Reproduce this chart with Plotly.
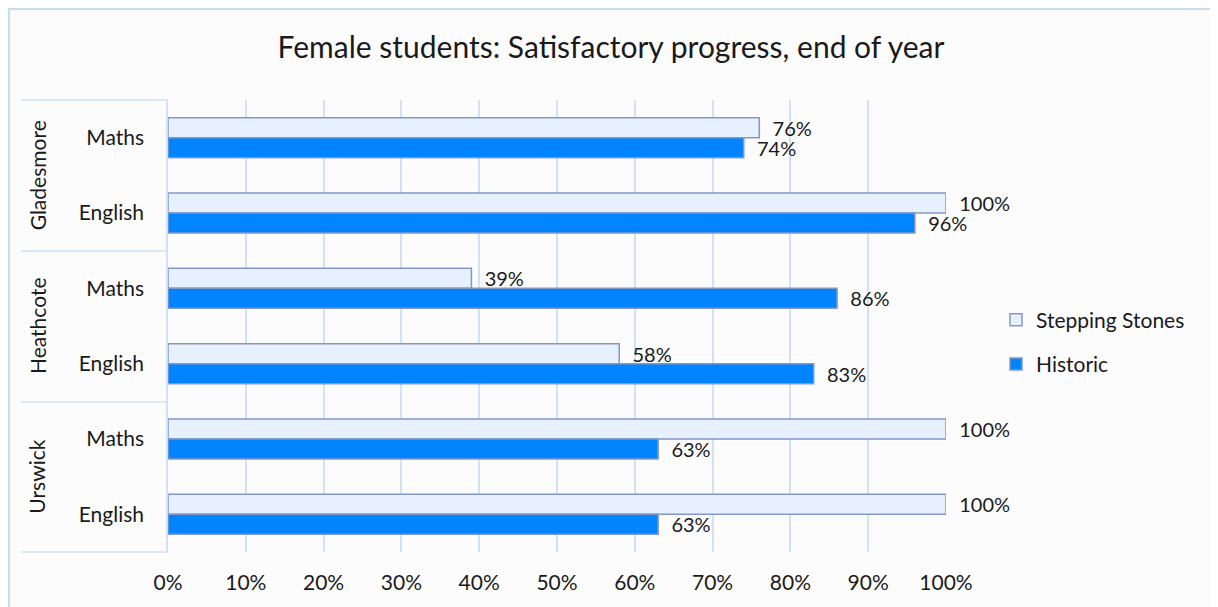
import plotly.graph_objects as go

# rows listed top to bottom, as shown in the chart
schools = ["Gladesmore", "Gladesmore", "Heathcote", "Heathcote", "Urswick", "Urswick"]
subjects = ["Maths", "English", "Maths", "English", "Maths", "English"]
stepping_stones = [0.76, 1.00, 0.39, 0.58, 1.00, 1.00]
historic = [0.74, 0.96, 0.86, 0.83, 0.63, 0.63]
x_ticks = [0, 0.1, 0.2, 0.3, 0.4, 0.5, 0.6, 0.7, 0.8, 0.9, 1.0]

# the page puts the figure 8px in from the top-left corner
OFF = 8
W, H = 1218 - OFF, 607 - OFF
PL, PR, PT, PB = 168, 946, 100, 552          # plot area in page pixels
L, R, T, B = PL - OFF, 1218 - PR, PT - OFF, 607 - PB
pw, ph = PR - PL, PB - PT

FONT = "Lato"
TXT = "#1a1a1a"
GRID = "#cfe2f7"
EDGE = "#8497c9"


def px_x(p):
    return (p - PL) / pw


def px_y(p):
    return (PB - p) / ph


rows = [s + " " + j for s, j in zip(schools, subjects)]

fig = go.Figure()
fig.add_trace(go.Bar(
    y=rows, x=stepping_stones, orientation="h", name="Stepping Stones",
    legendgroup="a",
    marker=dict(color="#e6f1fd", line=dict(color=EDGE, width=1.5)),
    text=stepping_stones, texttemplate="  %{x:.0%}", textposition="outside",
    textfont=dict(family=FONT, size=20, color=TXT), cliponaxis=False,
    constraintext="none",
))
fig.add_trace(go.Bar(
    y=rows, x=historic, orientation="h", name="Historic",
    legendgroup="b",
    marker=dict(color="#0084ff", line=dict(color=EDGE, width=1.5)),
    text=historic, texttemplate="  %{x:.0%}", textposition="outside",
    textfont=dict(family=FONT, size=20, color=TXT), cliponaxis=False,
    constraintext="none",
))

shapes = []
# chart border
shapes.append(dict(type="rect", xref="paper", yref="paper",
                   x0=px_x(9), x1=px_x(1215), y0=px_y(650), y1=px_y(9),
                   line=dict(color="#c5dcf5", width=2), layer="below"))
# group separators in the label column
for yp in [100, 251, 402, 552]:
    shapes.append(dict(type="line", xref="paper", yref="paper",
                       x0=px_x(21), x1=0, y0=px_y(yp), y1=px_y(yp),
                       line=dict(color=GRID, width=1.5)))

annotations = []
for k, name in enumerate(["Gladesmore", "Heathcote", "Urswick"]):
    annotations.append(dict(
        text=name, xref="paper", yref="y", x=px_x(37), y=2 * k + 0.5,
        showarrow=False, textangle=-90, xanchor="center", yanchor="middle",
        font=dict(family=FONT, size=21, color=TXT),
    ))

fig.update_layout(
    width=W, height=H,
    margin=dict(l=L, r=R, t=T, b=B, autoexpand=False),
    paper_bgcolor="#fcfcfc", plot_bgcolor="#fcfcfc",
    title=dict(text="Female students: Satisfactory progress, end of year",
               x=(611 - OFF) / W, xanchor="center",
               y=1 - (47 - OFF) / H, yanchor="middle",
               font=dict(family=FONT, size=30, color=TXT)),
    barmode="group", bargap=0.47, bargroupgap=0,
    showlegend=True,
    legend=dict(x=px_x(996), xanchor="left", y=px_y(342), yanchor="middle",
                font=dict(family=FONT, size=21, color=TXT),
                bgcolor="rgba(0,0,0,0)", tracegroupgap=14),
    shapes=shapes, annotations=annotations,
    font=dict(family=FONT, size=21, color=TXT),
)
fig.update_xaxes(
    range=[0, 1.0], tickvals=x_ticks, tickformat=".0%",
    showgrid=True, gridcolor=GRID, gridwidth=1.5,
    zeroline=False, showline=False, ticks="",
    ticklabelstandoff=16,
    tickfont=dict(family=FONT, size=21, color=TXT),
)
fig.update_yaxes(
    type="category", autorange="reversed",
    tickmode="array", tickvals=rows, ticktext=subjects,
    showgrid=False, zeroline=False, ticks="",
    showline=True, linecolor=GRID, linewidth=1.5,
    ticklabelstandoff=18,
    tickfont=dict(family=FONT, size=21, color=TXT),
)

fig.write_html("out.html")
